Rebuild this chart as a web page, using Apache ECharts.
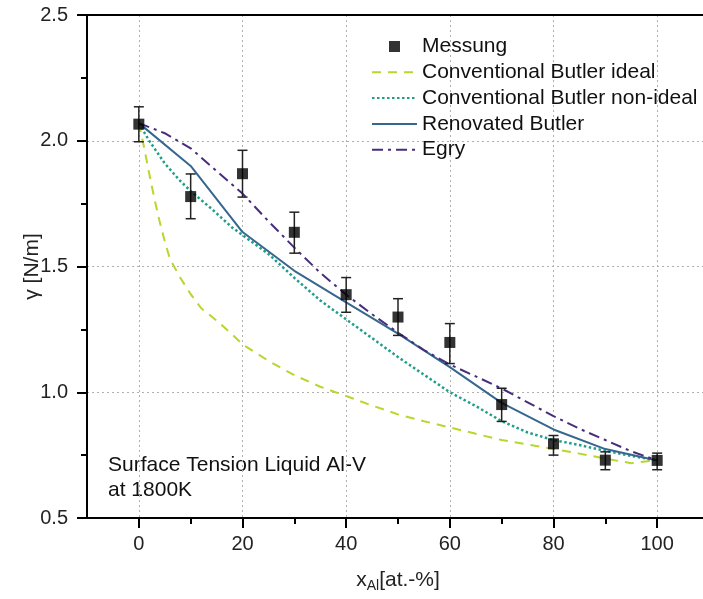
<!DOCTYPE html>
<html>
<head>
<meta charset="utf-8">
<script src="https://cdn.jsdelivr.net/npm/echarts@6/dist/echarts.min.js"></script>
<style>
html,body{margin:0;padding:0;background:#fff;}
#chart{width:703px;height:599px;}
</style>
</head>
<body>
<div id="chart"></div>
<script>
// ---- data ----
const xMajorTicks = [0, 20, 40, 60, 80, 100];
const xMinorTicks = [10, 30, 50, 70, 90];

const messX  = [0, 10, 20, 30, 40, 50, 60, 70, 80, 90, 100];
const messY  = [2.066, 1.778, 1.869, 1.636, 1.388, 1.299, 1.198, 0.951, 0.795, 0.730, 0.729];
const messHi = [2.135, 1.868, 1.962, 1.716, 1.456, 1.372, 1.273, 1.016, 0.828, 0.763, 0.758];
const messLo = [1.996, 1.690, 1.776, 1.553, 1.318, 1.226, 1.114, 0.884, 0.750, 0.692, 0.692];

const idealX = [0, 1, 2, 3, 4, 5, 6, 8, 10, 12, 15, 18, 20, 25, 30, 35, 40, 45, 50, 55, 60, 65, 70, 75, 80, 85, 90, 95, 100];
const idealY = [2.07, 1.975, 1.87, 1.77, 1.68, 1.60, 1.53, 1.455, 1.39, 1.335, 1.285, 1.23, 1.19, 1.125, 1.068, 1.022, 0.985, 0.947, 0.912, 0.885, 0.86, 0.835, 0.81, 0.792, 0.775, 0.756, 0.736, 0.718, 0.73];

const nonIdealX = [0, 2, 5, 8, 10, 14, 18, 20, 25, 30, 35, 40, 45, 50, 55, 60, 65, 70, 75, 80, 85, 90, 95, 100];
const nonIdealY = [2.07, 2.00, 1.91, 1.84, 1.80, 1.73, 1.655, 1.625, 1.55, 1.455, 1.365, 1.29, 1.215, 1.14, 1.07, 1.00, 0.945, 0.885, 0.84, 0.81, 0.79, 0.767, 0.747, 0.729];

const renovX = [0, 10, 20, 30, 40, 50, 60, 70, 80, 90, 100];
const renovY = [2.07, 1.90, 1.637, 1.483, 1.357, 1.233, 1.10, 0.958, 0.852, 0.774, 0.729];

const egryX = [0, 5, 10, 15, 20, 25, 30, 35, 40, 45, 50, 55, 60, 65, 70, 75, 80, 85, 90, 95, 100];
const egryY = [2.07, 2.03, 1.97, 1.88, 1.79, 1.68, 1.575, 1.475, 1.388, 1.31, 1.237, 1.168, 1.11, 1.063, 1.015, 0.96, 0.905, 0.855, 0.81, 0.765, 0.729];

const seriesNames = ['Messung', 'Conventional Butler ideal', 'Conventional Butler non-ideal', 'Renovated Butler', 'Egry'];
// ---------------

const FONT = '"Liberation Sans", Arial, sans-serif';
const zip = (xs, ys) => xs.map((x, i) => [x, ys[i]]);
// square legend marker centred in a 45x11 icon box
const SQUARE_ICON = 'path://M0,0h0.01v0.01h-0.01z M17,0h11v11h-11z M44.99,10.99h0.01v0.01h-0.01z';

const chart = echarts.init(document.getElementById('chart'), null, {renderer: 'canvas'});

const option = {
  animation: false,
  backgroundColor: '#fff',
  textStyle: {fontFamily: FONT},
  grid: {left: 87, top: 15, width: 622, height: 503, outerBoundsMode: 'none', containLabel: false,
         show: true, borderColor: '#000', borderWidth: 2, backgroundColor: 'transparent'},
  legend: {
    orient: 'vertical',
    left: 366,
    top: 31,
    itemWidth: 45,
    itemHeight: 11,
    itemGap: 4.8,
    textStyle: {fontSize: 21, lineHeight: 21, color: '#111', fontFamily: FONT},
    data: seriesNames.map((n, i) => i === 0
      ? {name: n, icon: SQUARE_ICON, itemStyle: {color: '#000'}}
      : {name: n, itemStyle: {opacity: 0}})
  },
  xAxis: [
    {
      type: 'value', min: -10, max: 110, position: 'bottom',
      axisLine: {show: true, onZero: false, lineStyle: {color: '#000', width: 2}},
      axisTick: {show: true, inside: false, length: 10, customValues: xMajorTicks, lineStyle: {color: '#000', width: 2}},
      axisLabel: {customValues: xMajorTicks, fontSize: 20, color: '#222', margin: 16, fontFamily: FONT},
      splitLine: {show: true, lineStyle: {type: [2, 3], color: '#b0b0b0', width: 1}},
      name: '{a|x}{b|Al}{a|[at.-%]}',
      nameLocation: 'middle',
      nameGap: 49,
      nameMoveOverlap: false,
      nameTextStyle: {
        rich: {
          a: {fontSize: 21, color: '#222', fontFamily: FONT},
          b: {fontSize: 14, color: '#222', fontFamily: FONT, padding: [12, 0, 0, 0]}
        }
      }
    },
    {
      type: 'value', min: -10, max: 110, position: 'bottom', gridIndex: 0,
      axisLine: {show: false},
      axisTick: {show: true, inside: false, length: 6, customValues: xMinorTicks, lineStyle: {color: '#000', width: 2}},
      axisLabel: {show: false},
      splitLine: {show: false}
    },
    {
      type: 'value', min: -10, max: 110, position: 'top', gridIndex: 0,
      axisLine: {show: true, onZero: false, lineStyle: {color: '#000', width: 2}},
      axisTick: {show: false},
      axisLabel: {show: false},
      splitLine: {show: false}
    }
  ],
  yAxis: {
    type: 'value', min: 0.5, max: 2.5, interval: 0.5,
    axisLine: {show: true, onZero: false, lineStyle: {color: '#000', width: 2}},
    axisTick: {show: true, inside: false, length: 10, lineStyle: {color: '#000', width: 2}},
    minorTick: {show: true, splitNumber: 2, length: 6, lineStyle: {color: '#000', width: 2}},
    axisLabel: {fontSize: 20, color: '#222', margin: 19, fontFamily: FONT, formatter: v => v.toFixed(1)},
    splitLine: {show: true, lineStyle: {type: [2, 3], color: '#b0b0b0', width: 1}},
    name: 'γ [N/m]',
    nameLocation: 'middle',
    nameGap: 44,
    nameMoveOverlap: false,
    nameTextStyle: {fontSize: 21, color: '#222', fontFamily: FONT}
  },
  graphic: [
    {
      type: 'text', left: 108, top: 453, silent: true,
      style: {text: 'Surface Tension Liquid Al-V\nat 1800K', font: '21px "Liberation Sans", Arial, sans-serif', lineHeight: 24.5, fill: '#111'}
    }
  ],
  series: [
    {
      name: 'Conventional Butler ideal', type: 'line', symbol: 'none', z: 3,
      data: zip(idealX, idealY),
      lineStyle: {color: '#bad62c', width: 2, type: [9, 7]},
      itemStyle: {color: '#bad62c'}
    },
    {
      name: 'Conventional Butler non-ideal', type: 'line', symbol: 'none', z: 3,
      data: zip(nonIdealX, nonIdealY),
      lineStyle: {color: '#1f9e89', width: 2.5, type: [2.5, 2.5]},
      itemStyle: {color: '#1f9e89'}
    },
    {
      name: 'Renovated Butler', type: 'line', symbol: 'none', z: 3,
      data: zip(renovX, renovY),
      lineStyle: {color: '#35678f', width: 2, type: 'solid'},
      itemStyle: {color: '#35678f'}
    },
    {
      name: 'Egry', type: 'line', symbol: 'none', z: 3,
      data: zip(egryX, egryY),
      lineStyle: {color: '#472d7b', width: 2, type: [11, 5, 3, 5]},
      itemStyle: {color: '#472d7b'}
    },
    {
      name: 'errors', type: 'custom', z: 4,
      data: messX.map((x, i) => [x, messLo[i], messHi[i]]),
      encode: {x: 0, y: [1, 2]},
      renderItem: function (params, api) {
        const x = api.value(0);
        const pLo = api.coord([x, api.value(1)]);
        const pHi = api.coord([x, api.value(2)]);
        const w = 5;
        const st = {stroke: '#222', lineWidth: 1.5};
        return {
          type: 'group',
          children: [
            {type: 'line', shape: {x1: pLo[0], y1: pLo[1], x2: pHi[0], y2: pHi[1]}, style: st},
            {type: 'line', shape: {x1: pLo[0] - w, y1: pLo[1], x2: pLo[0] + w, y2: pLo[1]}, style: st},
            {type: 'line', shape: {x1: pHi[0] - w, y1: pHi[1], x2: pHi[0] + w, y2: pHi[1]}, style: st}
          ]
        };
      }
    },
    {
      name: 'Messung', type: 'scatter', symbol: 'rect', symbolSize: 11, z: 5,
      data: zip(messX, messY),
      itemStyle: {color: '#000'}
    }
  ]
};
chart.setOption(option);
</script>
</body>
</html>
